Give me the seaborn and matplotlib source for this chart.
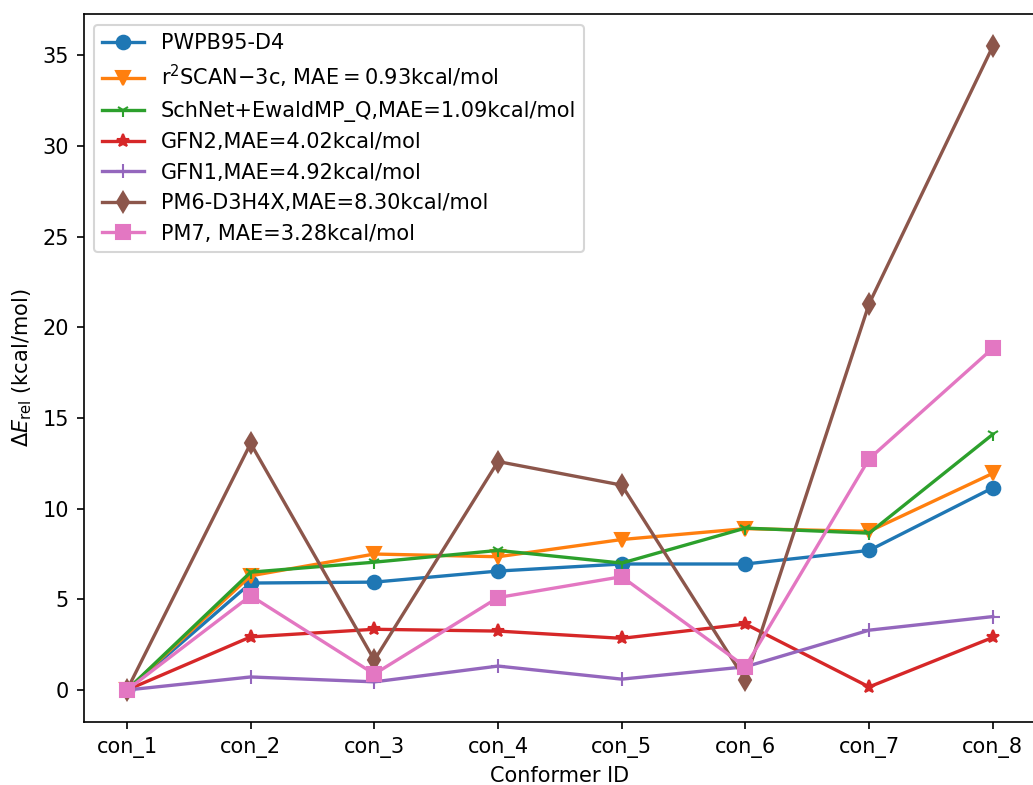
import matplotlib
matplotlib.use("Agg")
import matplotlib.pyplot as plt
import seaborn as sns
import pandas as pd

conformers = ["con_1", "con_2", "con_3", "con_4", "con_5", "con_6", "con_7", "con_8"]

pwpb95 = [0.0, 5.9, 5.95, 6.56, 6.95, 6.95, 7.7, 11.15]
r2scan = [0.0, 6.3, 7.5, 7.35, 8.3, 8.9, 8.75, 11.95]
schnet = [0.0, 6.5, 7.05, 7.7, 7.0, 8.93, 8.65, 14.1]
gfn2 = [0.0, 2.93, 3.35, 3.25, 2.85, 3.64, 0.17, 2.9]
gfn1 = [0.0, 0.72, 0.45, 1.32, 0.6, 1.28, 3.3, 4.05]
pm6 = [0.0, 13.6, 1.65, 12.6, 11.3, 0.55, 21.3, 35.5]
pm7 = [0.0, 5.2, 0.88, 5.1, 6.25, 1.28, 12.75, 18.85]

labels = [
    "PWPB95-D4",
    r"r$^2$SCAN$-$3c, MAE$=$0.93kcal/mol",
    "SchNet+EwaldMP_Q,MAE=1.09kcal/mol",
    "GFN2,MAE=4.02kcal/mol",
    "GFN1,MAE=4.92kcal/mol",
    "PM6-D3H4X,MAE=8.30kcal/mol",
    "PM7, MAE=3.28kcal/mol",
]
series = [pwpb95, r2scan, schnet, gfn2, gfn1, pm6, pm7]
markers = ["o", "v", "1", "*", "+", "d", "s"]
palette = sns.color_palette("tab10")
colors = [palette[0], palette[1], palette[2], palette[3], palette[4], palette[5], palette[6]]

fig = plt.figure(figsize=(1033 / 150, 785 / 150), dpi=150)
ax = fig.add_axes([0.081, 0.080, 0.922, 0.902])

for vals, lab, mk, col in zip(series, labels, markers, colors):
    df = pd.DataFrame({"Conformer": conformers, "E": vals})
    sns.lineplot(data=df, x="Conformer", y="E", ax=ax, color=col, marker=mk,
                 markersize=6.5, markeredgecolor=col, markeredgewidth=1.0,
                 linewidth=1.6, label=lab, sort=False)

ax.set_xlabel("Conformer ID")
ax.set_ylabel(r"$\Delta E_{\rm rel}$ (kcal/mol)")
ax.set_yticks([0, 5, 10, 15, 20, 25, 30, 35])
ax.legend(loc="upper left")

fig.savefig("out.png", dpi=150)
